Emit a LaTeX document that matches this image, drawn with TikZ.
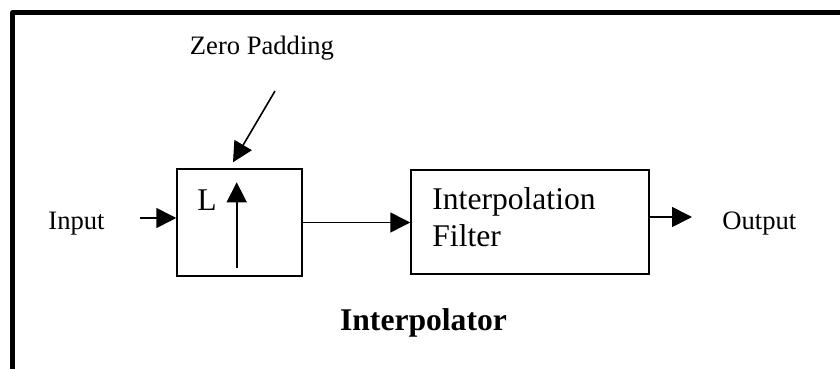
\documentclass[tikz,border=0pt]{standalone}
\usepackage{fontspec}
\setmainfont{Liberation Serif}
\usetikzlibrary{arrows.meta, positioning}

\begin{document}
\begin{tikzpicture}[
    x=0.5pt, y=-0.5pt,
    block/.style={rectangle, draw=black, line width=0.75pt, inner sep=0pt},
    lbl/.style={inner sep=0pt, font=\fontsize{13.3}{16}\selectfont},
    biglbl/.style={inner sep=0pt, font=\fontsize{15.8}{18.5}\selectfont},
    sig/.style={-{Triangle[length=10pt, width=10pt]}, line width=0.8pt},
  ]
    \useasboundingbox (0,0) rectangle (840,369);
    % frame, open at the right and at the bottom
    \draw[line width=2.5pt, line join=round] (845,12.5) -- (12.5,12.5) -- (12.5,375);

    \node[block, minimum width=62.5pt, minimum height=53.5pt] (upsamp) at (239.5,222.5) {};
    \node[block, minimum width=119pt, minimum height=52pt] (filt) at (530,222) {};
    \node[biglbl, anchor=base west, align=left] (filttext) at (432,246.7) {Interpolation\\Filter};

    \node[biglbl, anchor=base west] (lname) at (197,210.7) {L};
    \coordinate (upbot) at (236.7,268.3);
    \coordinate (uptop) at (236.7,182.3);
    \draw[sig] (upbot) -- (uptop);

    \node[lbl, anchor=base] (zpad) at (262,55) {Zero Padding};
    \coordinate (zptail) at (275,91);
    \draw[sig] (zptail) -- ([xshift=-3.25pt,yshift=3pt]upsamp.north);

    \node[lbl, anchor=base west] (inp) at (48,229) {Input};
    \coordinate (intail) at (140,218);
    \draw[sig] (intail) -- ([yshift=2.25pt]upsamp.west);
    \draw[sig] (upsamp.east) -- (upsamp.east -| filt.west);
    \coordinate (outtip) at (692,217);
    \draw[sig] ([yshift=2.5pt]filt.east) -- (outtip);
    \node[lbl, anchor=base west] (outp) at (722,229) {Output};

    \node[biglbl, font=\fontsize{15.8}{18.5}\selectfont\bfseries, anchor=base] (title)
      at (423.5,330) {Interpolator};
  \end{tikzpicture}
\end{document}
